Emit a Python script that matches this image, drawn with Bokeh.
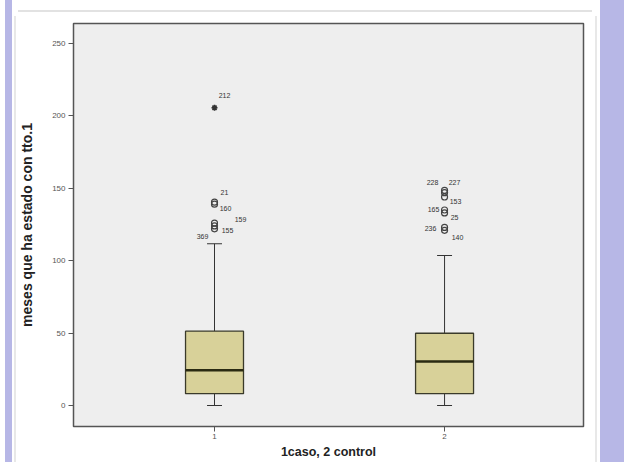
from bokeh.plotting import figure
from bokeh.models import FixedTicker, ColumnDataSource, Range1d
from bokeh.core.properties import value
from bokeh.embed import file_html
from bokeh.resources import INLINE

# ---- data ----
groups = ["1", "2"]
positions = [1, 2]
q1 = [8.2, 8.2]
medians = [24.3, 30.4]
q3 = [51.3, 49.9]
whisker_low = [0.0, 0.0]
whisker_high = [111.7, 103.6]

out_group = [1, 1, 1, 1, 1, 1, 2, 2, 2, 2, 2, 2, 2]
out_value = [205.6, 140.4, 139.0, 126.0, 124.0, 122.0,
             148.5, 147.0, 144.0, 135.0, 133.0, 123.0, 121.0]
out_label = ["212", "21", "160", "159", "155", "369",
             "228", "227", "153", "165", "25", "236", "140"]
out_extreme = [True] + [False] * 12

y_ticks = [0, 50, 100, 150, 200, 250]
x_title = "1caso, 2 control"
y_title = "meses que ha estado con tto.1"

# ---- label placement (styling, pixels) ----
label_dx = [10, 10, 11, 26, 13, -12, -12, 10, 11, -11, 10, -14, 13]
label_dy = [-12, -10, 4, -4, 5, 8, -8, -10, 5, -1, 5, 1, 7]

FONT = "Liberation Sans"
box_w = 0.252
cap_w = 0.065

p = figure(width=624, height=462, output_backend="svg", toolbar_location=None,
           x_range=Range1d(0.387, 2.604), y_range=Range1d(-14.5, 263.8),
           min_border_left=73, min_border_right=41, min_border_top=23, min_border_bottom=36)
p.frame_width = 510
p.frame_height = 403

p.background_fill_color = "#eeeeee"
p.border_fill_alpha = 0
p.outline_line_color = "#555555"
p.outline_line_width = 1.5
p.xgrid.visible = False
p.ygrid.visible = False

# page look around the chart (lavender side strips, light panel edge)
p.styles = {
    "background": (
        "linear-gradient(#e2e2e2, #e2e2e2) 18px 10px / 574px 2px no-repeat, "
        "linear-gradient(#e8e8e8, #e8e8e8) 14px 16px / 2px 446px no-repeat, "
        "linear-gradient(#e8e8e8, #e8e8e8) 595px 16px / 2px 446px no-repeat, "
        "linear-gradient(to right, #ffffff 0px, #ffffff 5px, #b7b7e6 5px, #b7b7e6 12px, "
        "#ffffff 12px, #ffffff 600px, #b7b7e6 600px, #b7b7e6 624px)"
    )
}

# whiskers
p.segment(x0=positions, y0=q3, x1=positions, y1=whisker_high, line_color="#333333", line_width=1)
p.segment(x0=positions, y0=q1, x1=positions, y1=whisker_low, line_color="#333333", line_width=1)
caps_x0 = [x - cap_w / 2 for x in positions]
caps_x1 = [x + cap_w / 2 for x in positions]
p.segment(x0=caps_x0, y0=whisker_high, x1=caps_x1, y1=whisker_high, line_color="#333333", line_width=1.2)
p.segment(x0=caps_x0, y0=whisker_low, x1=caps_x1, y1=whisker_low, line_color="#333333", line_width=1.2)

# boxes
p.vbar(x=positions, width=box_w, bottom=q1, top=q3, fill_color="#d8d199",
       line_color="#3a3a2a", line_width=1.3)
p.segment(x0=[x - box_w / 2 for x in positions], y0=medians,
          x1=[x + box_w / 2 for x in positions], y1=medians,
          line_color="#2a2a12", line_width=2.6)

# outliers
src = ColumnDataSource(dict(x=out_group, y=out_value, label=out_label,
                            dx=label_dx, dy=label_dy))
circ = ColumnDataSource(dict(x=[g for g, e in zip(out_group, out_extreme) if not e],
                             y=[v for v, e in zip(out_value, out_extreme) if not e]))
star = ColumnDataSource(dict(x=[g for g, e in zip(out_group, out_extreme) if e],
                             y=[v for v, e in zip(out_value, out_extreme) if e]))
p.scatter("x", "y", source=circ, marker="circle", size=6, fill_alpha=0,
          line_color="#444444", line_width=1.2)
p.scatter("x", "y", source=star, marker="asterisk", size=6,
          line_color="#333333", line_width=1.6)
p.text("x", "y", text="label", source=src, x_offset="dx", y_offset="dy",
       text_font=value(FONT), text_font_size="7px", text_color="#333333",
       text_align="center", text_baseline="middle")

# axes
p.yaxis.ticker = FixedTicker(ticks=y_ticks)
p.xaxis.ticker = FixedTicker(ticks=positions)
p.xaxis.major_label_overrides = {pos: g for pos, g in zip(positions, groups)}
for ax in (p.xaxis, p.yaxis):
    ax.minor_tick_line_color = None
    ax.major_tick_in = 0
    ax.major_tick_out = 5
    ax.major_tick_line_color = "#555555"
    ax.axis_line_color = "#555555"
    ax.major_label_text_font = FONT
    ax.major_label_text_font_size = "8px"
    ax.major_label_text_color = "#555555"
    ax.axis_label_text_font = FONT
    ax.axis_label_text_font_style = "bold"
    ax.axis_label_text_color = "#222222"
p.yaxis.major_label_standoff = 3
p.xaxis.major_label_standoff = 2
p.yaxis.axis_label = y_title
p.yaxis.axis_label_text_font_size = "14px"
p.yaxis.axis_label_standoff = 14
p.xaxis.axis_label = x_title
p.xaxis.axis_label_text_font_size = "12.5px"
p.xaxis.axis_label_standoff = 3

open("out.html", "w").write(file_html(p, INLINE))
